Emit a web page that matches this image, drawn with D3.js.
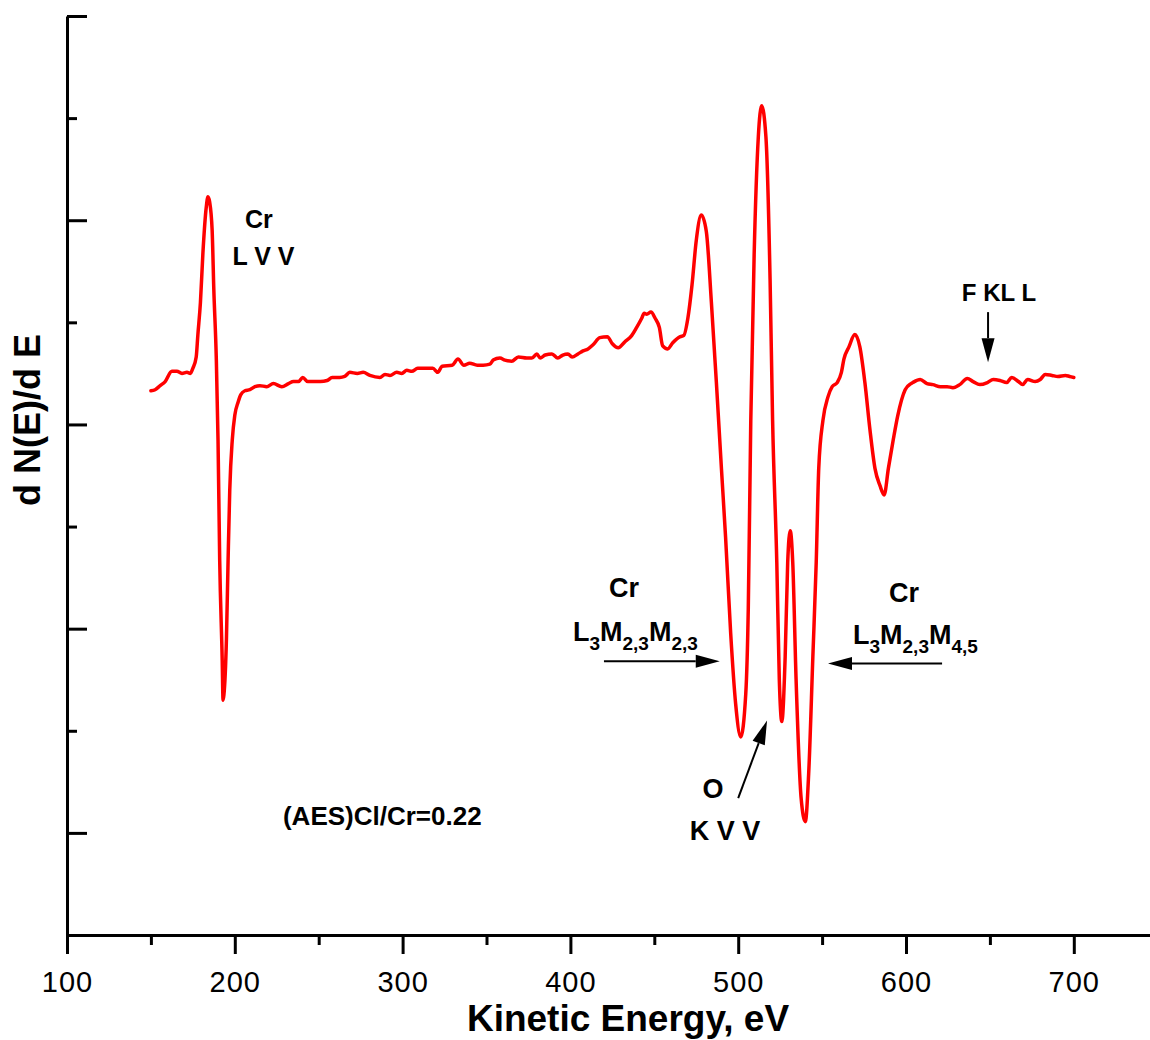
<!DOCTYPE html>
<html>
<head>
<meta charset="utf-8">
<script src="https://cdn.jsdelivr.net/npm/d3@7"></script>
<style>
  html, body { margin: 0; padding: 0; background: #fff; }
  svg { display: block; }
  text { font-family: "Liberation Sans", Arial, sans-serif; }
</style>
</head>
<body>
<svg id="chart" width="1150" height="1040"></svg>
<script>
// ---- data ----
const energy = [150,152.5,155.5,158.5,162.5,165.5,168.5,171.5,173.5,175,177,178,179.5,181,183,184,185,186.5,187.5,189,190,191,192.5,193,193.5,195,196,197,198.5,200,202,203.5,206,209,212,215,219,223,228,232,235,238,240.5,243.5,246.5,251,255,258,262.5,265.5,268.5,273,276.5,280.5,286.5,289.5,292.5,296.5,299.5,302.5,305.5,309,313.5,318,321,323.5,329.5,333,336.5,340,344.5,348,352,354,358,361,365,369,374,377,380,382,385,389,392.5,395.5,398.5,401,404.5,407.5,410.5,413.5,417.5,422,425,428.5,432.5,436.5,439.5,442.5,444,445.5,448,450.5,453,455,458,461,465.5,467.5,470,472.5,475,478,481,484,487,490,492.5,495.5,498.5,501.5,504.5,506,507.5,509.5,512,514,516.5,519,520.5,523,524.5,526,528,529.5,531,532.5,534.5,537.5,540,542,544.5,546.5,548,550.5,553.5,556,559,561.5,563,566,569.5,572.5,575.5,578.5,581.5,584.5,587,589.5,592.5,595,599.5,603,604,608.5,612.5,616,620.5,624.5,628,632,636.5,640,644,648.5,652,656,660,663,667,669.5,672.5,677,680,683,687,690.5,695,697.5,700];
const dNdE = [53.3,53.4,53.8,54.2,55.2,55.2,55.0,55.1,55.0,55.5,56.6,58.8,61.9,66.8,71.3,72.3,71.8,69.0,63.2,56.3,48.5,36.7,26.9,23.0,23.5,28.9,36.7,43.6,48.5,50.9,52.2,52.9,53.3,53.4,53.7,53.8,53.7,54.0,53.7,54.0,54.2,54.2,54.6,54.2,54.2,54.2,54.3,54.6,54.6,54.7,55.1,55.0,55.1,54.8,54.6,54.9,54.8,55.1,55.0,55.3,55.2,55.5,55.5,55.5,55.1,55.7,55.8,56.4,55.8,56.0,55.8,55.8,55.9,56.3,56.5,56.3,56.2,56.6,56.5,56.5,56.9,56.5,56.8,56.9,56.5,56.8,56.9,56.6,56.9,57.2,57.4,57.8,58.5,58.6,57.9,57.5,58.1,58.7,59.5,60.4,60.9,60.8,61.0,60.4,59.5,57.7,57.4,58.0,58.6,58.7,60.4,63.7,68.0,70.5,68.9,62.0,54.1,45.7,38.9,29.6,22.6,19.4,23.6,31.9,50.4,66.6,78.2,81.2,78.2,64.2,50.4,36.5,25.0,20.9,27.3,36.5,39.6,36.5,25.0,13.4,11.1,15.8,27.3,36.5,45.7,50.4,52.7,53.7,54.1,55.1,56.4,57.6,58.8,57.6,54.1,49.5,45.7,44.0,43.1,45.7,48.6,50.8,53.4,54.0,54.1,54.4,54.0,53.9,53.7,53.7,53.6,53.9,54.5,54.2,53.9,54.1,54.4,54.3,54.1,54.6,54.2,53.9,54.4,54.2,54.4,54.9,54.8,54.7,54.8,54.7,54.6];

const xMajorTicks = [100,200,300,400,500,600,700];
const xMinorTicks = [150,250,350,450,550,650,750];
const yMajorTicks = [10,30,50,70,90];
const yMinorTicks = [0,20,40,60,80];

const xTitle = "Kinetic Energy, eV";
const yTitle = "d N(E)/d E";

// annotation texts: [energy, value, parts]
const labelsSmall = [
  {e: 214.4, v: 69.2, text: "Cr", size: 25},
  {e: 217.1, v: 65.6, text: "L V V", size: 25},
  {e: 432, v: 33.1, text: "Cr", size: 27},
  {e: 598.8, v: 32.6, text: "Cr", size: 27},
  {e: 485, v: 13.4, text: "O", size: 27},
  {e: 492.1, v: 9.3, text: "K V V", size: 27},
  {e: 655.4, v: 62.1, text: "F KL L", size: 24}
];
const transitionLabels = [
  {e: 401.5, v: 28.8, parts: [["L",0],["3",1],["M",0],["2,3",1],["M",0],["2,3",1]]},
  {e: 568.4, v: 28.5, parts: [["L",0],["3",1],["M",0],["2,3",1],["M",0],["4,5",1]]}
];
const ratioNote = {e: 228.7, v: 10.8, text: "(AES)Cl/Cr=0.22"};
const arrows = [
  {e1: 420, v1: 26.8, e2: 489, v2: 26.8},
  {e1: 621.5, v1: 26.6, e2: 553.5, v2: 26.6},
  {e1: 500, v1: 13.4, e2: 517.2, v2: 21.0},
  {e1: 648.9, v1: 61.0, e2: 648.9, v2: 56.1}
];

// ---- drawing ----
const svg = d3.select("#chart");
const x = d3.scaleLinear().domain([100, 750]).range([67, 67 + 650 * 1.678]);
const y = d3.scaleLinear().domain([0, 90]).range([935, 16]);

// x axis
const gx = svg.append("g").attr("transform", "translate(0,935)");
gx.call(d3.axisBottom(x).tickValues(xMajorTicks).tickSizeInner(19).tickSizeOuter(0).tickPadding(17).tickFormat(d3.format("d")));
gx.append("g").call(d3.axisBottom(x).tickValues(xMinorTicks).tickSizeInner(10).tickSizeOuter(0).tickFormat(""))
  .select(".domain").remove();
gx.selectAll("path.domain").attr("stroke", "#000").attr("stroke-width", 3);
gx.selectAll(".tick line").attr("stroke", "#000").attr("stroke-width", 3);
gx.selectAll(".tick text").attr("fill", "#000")
  .style("font-family", "'Liberation Sans', Arial, sans-serif")
  .style("font-size", "29px").style("letter-spacing", "1px");

// y axis (ticks inward)
const gy = svg.append("g").attr("transform", "translate(67,0)");
gy.call(d3.axisRight(y).tickValues(yMajorTicks).tickSizeInner(20).tickSizeOuter(0).tickFormat(""));
gy.append("g").call(d3.axisRight(y).tickValues(yMinorTicks).tickSizeInner(10).tickSizeOuter(0).tickFormat(""))
  .select(".domain").remove();
gy.selectAll("path.domain").attr("stroke", "#000").attr("stroke-width", 3);
gy.selectAll(".tick line").attr("stroke", "#000").attr("stroke-width", 3);

// titles
svg.append("text").attr("x", 628).attr("y", 1031).attr("text-anchor", "middle")
  .style("font-size", "37px").style("font-weight", "bold").text(xTitle);
svg.append("text").attr("transform", "translate(40,420) rotate(-90)").attr("text-anchor", "middle")
  .style("font-size", "36px").style("font-weight", "bold").text(yTitle);

// curve
const pts = energy.map((e, i) => [e, dNdE[i]]);
svg.append("path").datum(pts)
  .attr("fill", "none").attr("stroke", "#ff0000").attr("stroke-width", 3.5)
  .attr("stroke-linejoin", "round").attr("stroke-linecap", "round")
  .attr("d", d3.line().x(d => x(d[0])).y(d => y(d[1])).curve(d3.curveMonotoneX));

// annotations
labelsSmall.forEach(l => {
  svg.append("text").attr("x", x(l.e)).attr("y", y(l.v)).attr("text-anchor", "middle")
    .style("font-size", l.size + "px").style("font-weight", "bold").text(l.text);
});
transitionLabels.forEach(l => {
  const t = svg.append("text").attr("x", x(l.e)).attr("y", y(l.v))
    .style("font-weight", "bold");
  let sub = false;
  l.parts.forEach(([s, isSub]) => {
    const ts = t.append("tspan").text(s);
    if (isSub && !sub) { ts.attr("dy", 9); }
    if (!isSub && sub) { ts.attr("dy", -9); }
    ts.style("font-size", isSub ? "19px" : "27px");
    sub = !!isSub;
  });
});
svg.append("text").attr("x", x(ratioNote.e)).attr("y", y(ratioNote.v))
  .style("font-size", "26px").style("font-weight", "bold").text(ratioNote.text);

// arrows
arrows.forEach(a => {
  const x1 = x(a.e1), y1 = y(a.v1), x2 = x(a.e2), y2 = y(a.v2);
  const ang = Math.atan2(y2 - y1, x2 - x1);
  const L = 24, W = 6.5;
  const bx = x2 - L * Math.cos(ang), by = y2 - L * Math.sin(ang);
  svg.append("line").attr("x1", x1).attr("y1", y1).attr("x2", bx).attr("y2", by)
    .attr("stroke", "#000").attr("stroke-width", 2);
  const px = -Math.sin(ang) * W, py = Math.cos(ang) * W;
  svg.append("path")
    .attr("d", `M${x2},${y2}L${bx + px},${by + py}L${bx - px},${by - py}Z`)
    .attr("fill", "#000");
});
</script>
</body>
</html>
